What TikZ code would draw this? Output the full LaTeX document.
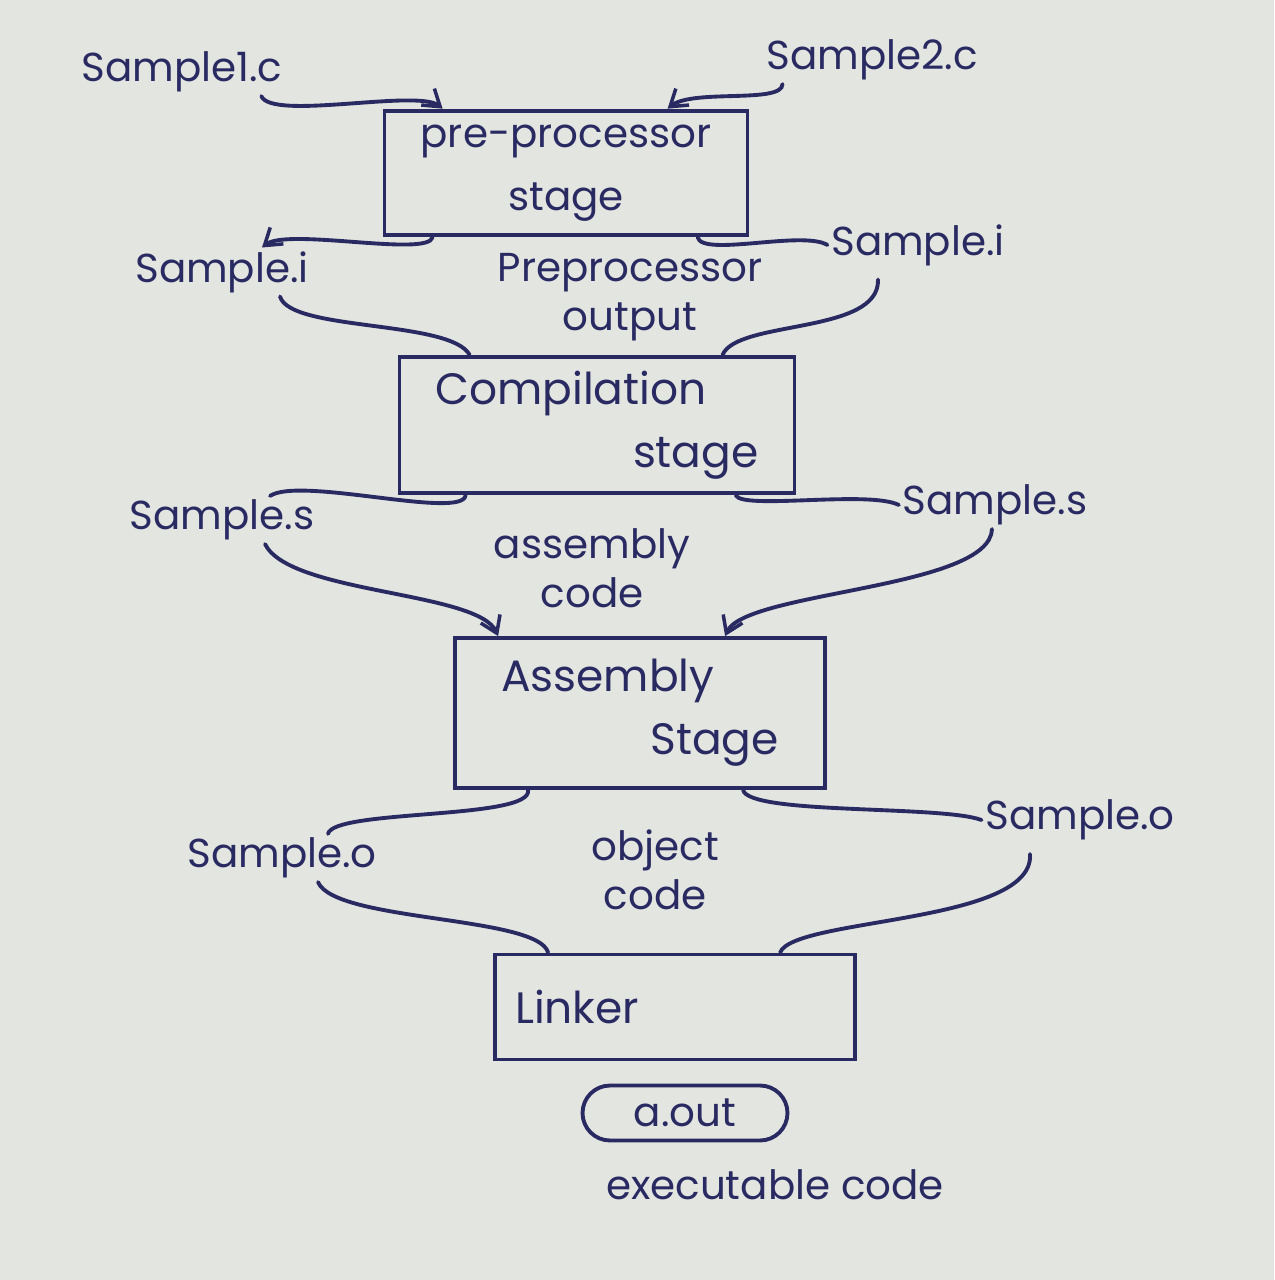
\documentclass[tikz,border=0pt]{standalone}
\usepackage{fontspec}
\setmainfont{Poppins}
\usetikzlibrary{arrows.meta,calc}
\definecolor{ink}{HTML}{2A2A62}
\definecolor{paper}{HTML}{E3E5E0}
\begin{document}
\begin{tikzpicture}[x=0.02cm,y=-0.02cm,
  every node/.style={text=ink,font=\fontsize{23}{28}\selectfont},
  lbl/.style={inner sep=2pt},
  stagebox/.style={draw=ink,line width=2.2pt,rectangle,inner sep=8pt,font=\fontsize{25}{36}\selectfont},
  wire/.style={draw=ink,line width=2.2pt,line cap=round},
  arr/.style={wire,-{Straight Barb[length=9pt,width=12pt,line width=2pt]}}]
\fill[paper] (0,0) rectangle (1274,1280);
\useasboundingbox (0,0) rectangle (1274,1280);

% labels
\node[lbl] (s1) at (182,72) {Sample1.c};
\node[lbl] (s2) at (872,60) {Sample2.c};
\node[lbl] (si1) at (222,272) {Sample.i};
\node[lbl] (si2) at (918,245) {Sample.i};
\node[lbl,align=center] (ppo) at (630,297) {Preprocessor\\output};
\node[lbl] (ss1) at (222,520) {Sample.s};
\node[lbl] (ss2) at (995,505) {Sample.s};
\node[lbl,align=center] (asmc) at (592,568) {assembly\\code};
\node[lbl] (so1) at (282,858) {Sample.o};
\node[lbl] (so2) at (1080,820) {Sample.o};
\node[lbl,align=center] (objc) at (655,870) {object\\code};

% stage boxes
\node[stagebox,minimum width=7.26cm,minimum height=2.46cm,align=center,font=\fontsize{23}{36}\selectfont] (pre) at (566,173) {pre-processor\\stage};
\node[stagebox,minimum width=7.9cm,minimum height=2.52cm,align=left] (comp) at (597,425) {Compilation\\\hspace*{4.5em}stage};
\node[stagebox,minimum width=7.4cm,minimum height=3.0cm,align=left] (asm) at (640,713) {Assembly\\\hspace*{3.4em}Stage};
\node[stagebox,minimum width=7.2cm,minimum height=2.1cm,text width=6.4cm,align=left] (link) at (675,1007) {Linker};
\node[draw=ink,line width=2.2pt,rounded corners=0.55cm,minimum width=4.1cm,minimum height=1.1cm,inner sep=2pt] (aout) at (685,1113) {a.out};
\node[lbl] (exe) at (775,1185) {executable code};

% connectors
\draw[arr] ($(s1.south east)+(-25,0)$) .. controls +(10,25) and +(-25,-20) .. ($(pre.north west)+(60,0)$);
\draw[arr] ($(s2.south west)+(20,0)$) .. controls +(0,20) and +(25,-20) .. ($(pre.north west)+(285,0)$);
\draw[arr] ($(pre.south west)+(50,0)$) .. controls +(-5,20) and +(25,-20) .. ($(si1.north)+(40,0)$);
\draw[wire] ($(pre.south west)+(315,0)$) .. controls +(5,20) and +(-25,-15) .. (si2.west);
\draw[wire] ($(si1.south)+(58,0)$) .. controls +(10,35) and +(-20,-35) .. ($(comp.north west)+(72,0)$);
\draw[wire] ($(si2.south)+(-40,10)$) .. controls +(2,55) and +(15,-35) .. ($(comp.north west)+(325,0)$);
\draw[wire] ($(comp.south west)+(68,0)$) .. controls +(-3,25) and +(30,-20) .. ($(ss1.north)+(48,0)$);
\draw[wire] ($(comp.south west)+(338,0)$) .. controls +(7,15) and +(-30,-15) .. (ss2.west);
\draw[arr] ($(ss1.south)+(43,0)$) .. controls +(25,50) and +(-20,-45) .. ($(asm.north west)+(45,0)$);
\draw[arr] ($(ss2.south)+(-3,0)$) .. controls +(-2,60) and +(20,-45) .. ($(asm.north west)+(272,0)$);
\draw[wire] ($(asm.south west)+(75,0)$) .. controls +(5,30) and +(5,-25) .. ($(so1.north)+(46,0)$);
\draw[wire] ($(asm.south west)+(290,0)$) .. controls +(5,25) and +(-40,-15) .. (so2.west);
\draw[wire] ($(so1.south)+(36,0)$) .. controls +(17,40) and +(-10,-37) .. ($(link.north west)+(55,0)$);
\draw[wire] ($(so2.south)+(-50,10)$) .. controls +(5,70) and +(13,-35) .. ($(link.north west)+(287,0)$);
\end{tikzpicture}
\end{document}
